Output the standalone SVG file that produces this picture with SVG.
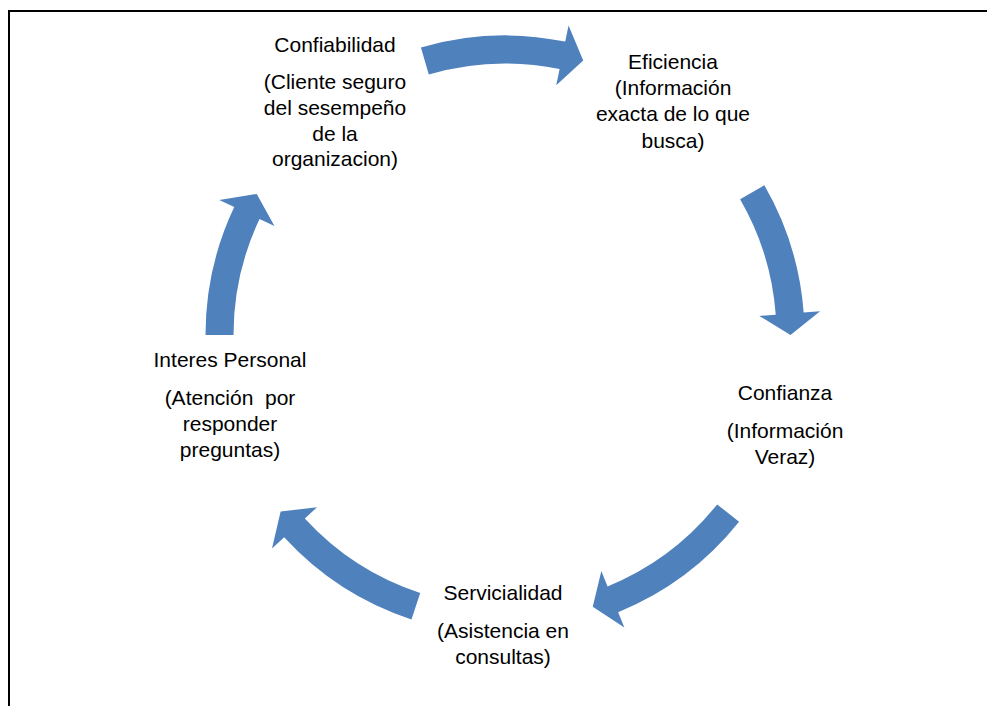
<svg xmlns="http://www.w3.org/2000/svg" width="987" height="706" viewBox="0 0 987 706">
  <style>
    .arrow { fill: #4F81BD; stroke: none; }
    .label { font-family: "Liberation Sans", Arial, sans-serif; font-size: 21px; fill: #000; text-anchor: middle; }
  </style>
  <rect x="0" y="0" width="987" height="706" fill="#fff"/>
  <!-- frame: top and left edges -->
  <path d="M9,706 V11 H987" fill="none" stroke="#000" stroke-width="2"/>

  <!-- curved cycle arrows on a circle centred at (505,335) -->
  <g id="connectors">
    <path class="arrow" d="M420.93,47.54 A299.5,299.5 0 0 1 565.23,41.61 L568.55,25.45 L583.22,60.43 L556.28,85.20 L559.60,69.04 A271.5,271.5 0 0 0 428.79,74.41 Z"/>
    <path class="arrow" d="M764.37,185.25 A299.5,299.5 0 0 1 803.66,312.54 L820.11,311.31 L790.5,335 L759.28,315.88 L775.74,314.64 A271.5,271.5 0 0 0 740.12,199.25 Z"/>
    <path class="arrow" d="M739.06,521.86 A299.5,299.5 0 0 1 618.15,612.31 L624.38,627.58 L592.76,606.68 L601.34,571.10 L607.57,586.38 A271.5,271.5 0 0 0 717.18,504.39 Z"/>
    <path class="arrow" d="M411.47,619.53 A299.5,299.5 0 0 1 284.18,537.34 L272.01,548.49 L280.63,511.55 L316.99,507.28 L304.82,518.43 A271.5,271.5 0 0 0 420.21,592.93 Z"/>
    <path class="arrow" d="M205.5,335 A299.5,299.5 0 0 1 234.22,206.99 L219.30,199.94 L256.76,193.99 L274.45,226.01 L259.54,218.96 A271.5,271.5 0 0 0 233.5,335 Z"/>
  </g>

  <g id="confiabilidad">
    <text class="label" x="335" y="52">Confiabilidad</text>
    <text class="label" x="335" y="89">(Cliente seguro</text>
    <text class="label" x="335" y="115">del sesempeño</text>
    <text class="label" x="335" y="141">de la</text>
    <text class="label" x="335" y="166">organizacion)</text>
  </g>

  <g id="eficiencia">
    <text class="label" x="673" y="69">Eficiencia</text>
    <text class="label" x="673" y="95">(Información</text>
    <text class="label" x="673" y="121">exacta de lo que</text>
    <text class="label" x="673" y="148">busca)</text>
  </g>

  <g id="confianza">
    <text class="label" x="785" y="400">Confianza</text>
    <text class="label" x="785" y="438">(Información</text>
    <text class="label" x="785" y="464">Veraz)</text>
  </g>

  <g id="servicialidad">
    <text class="label" x="503" y="600">Servicialidad</text>
    <text class="label" x="503" y="638">(Asistencia en</text>
    <text class="label" x="503" y="664">consultas)</text>
  </g>

  <g id="interes-personal">
    <text class="label" x="230" y="367">Interes Personal</text>
    <text class="label" x="230" y="405" xml:space="preserve">(Atención  por</text>
    <text class="label" x="230" y="431">responder</text>
    <text class="label" x="230" y="457">preguntas)</text>
  </g>
</svg>
